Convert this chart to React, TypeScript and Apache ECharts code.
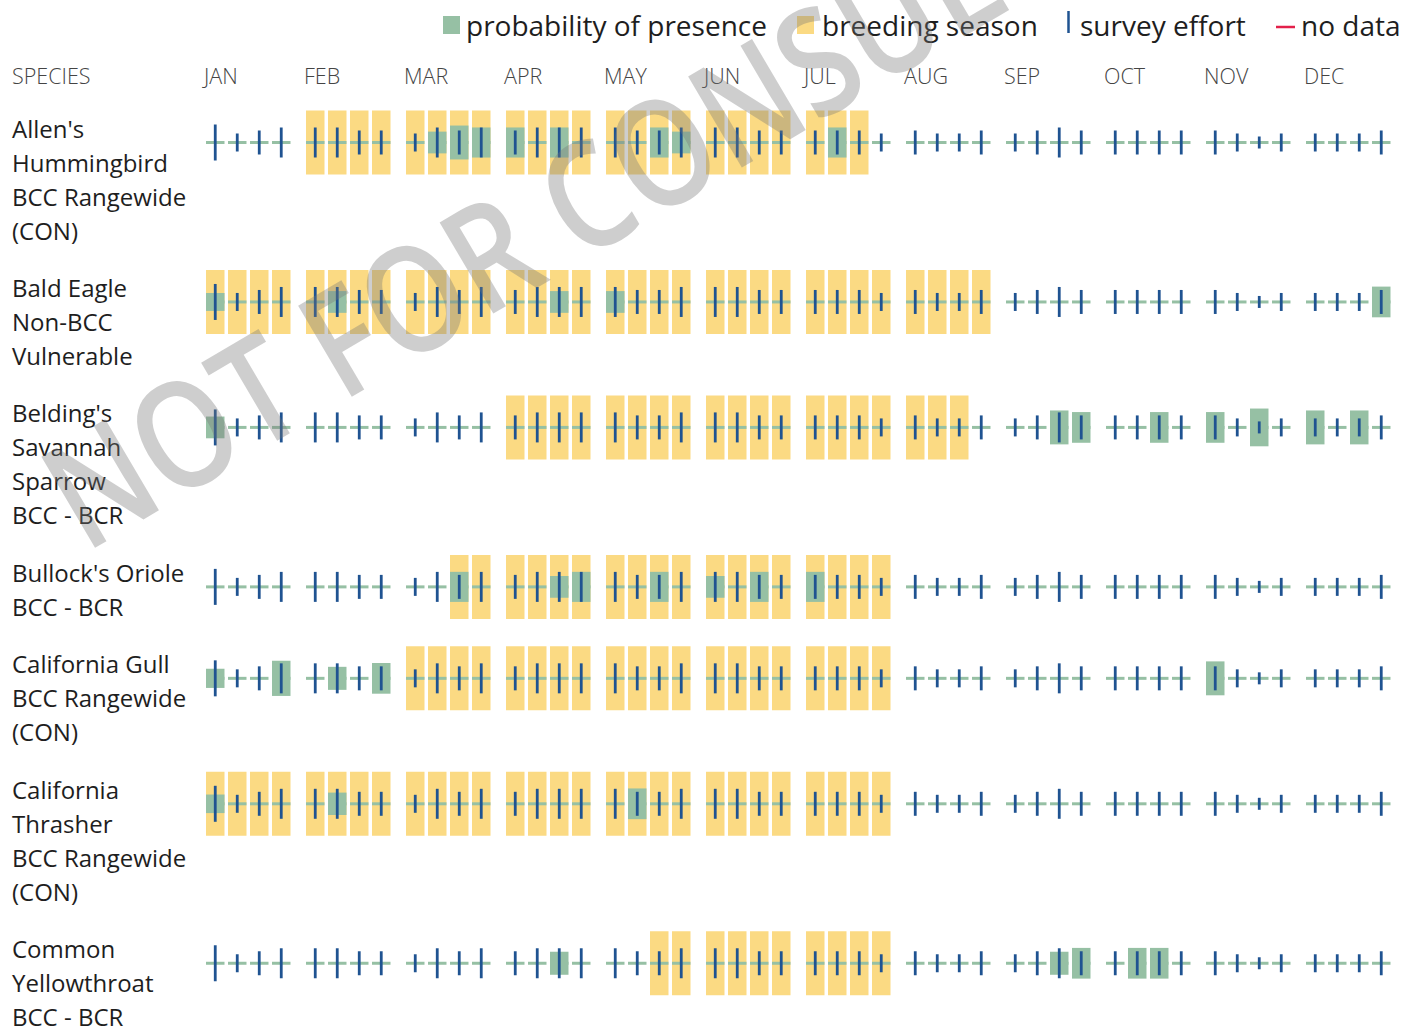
import React, { useEffect, useRef } from "react";
import * as echarts from "echarts";

// ---------- data ----------
const MONTHS = ["JAN", "FEB", "MAR", "APR", "MAY", "JUN", "JUL", "AUG", "SEP", "OCT", "NOV", "DEC"];

const SPECIES_LABELS: string[][] = [
  ["Allen's", "Hummingbird", "BCC Rangewide", "(CON)"],
  ["Bald Eagle", "Non-BCC", "Vulnerable"],
  ["Belding's", "Savannah", "Sparrow", "BCC - BCR"],
  ["Bullock's Oriole", "BCC - BCR"],
  ["California Gull", "BCC Rangewide", "(CON)"],
  ["California", "Thrasher", "BCC Rangewide", "(CON)"],
  ["Common", "Yellowthroat", "BCC - BCR"],
];

// survey effort per week (same survey coverage for every species), 0-10 scale
const EFFORT = [
  6, 3, 4, 5, 5, 5, 4, 4, 3, 5, 4, 5, 4, 5, 5, 5, 5, 4, 4, 5, 5, 5, 4, 4,
  4, 4, 4, 3, 4, 3, 3, 4, 3, 4, 5, 4, 4, 4, 4, 4, 4, 3, 2, 3, 3, 3, 3, 4,
];

// breeding season ranges (inclusive week indexes 0..47)
const BREEDING: number[][][] = [
  [[4, 26]],
  [[0, 31]],
  [[12, 30]],
  [[10, 27]],
  [[8, 27]],
  [[0, 27]],
  [[18, 27]],
];

// probability of presence per week, 0-10 scale
const PROB_ALLENS = [
  0, 0, 0, 0, 0, 0, 0, 0, 0, 3.4, 5.3, 4.7, 4.7, 0, 4.7, 0, 0, 0, 4.7, 3.4, 0, 0, 0, 0,
  0, 4.7, 0, 0, 0, 0, 0, 0, 0, 0, 0, 0, 0, 0, 0, 0, 0, 0, 0, 0, 0, 0, 0, 0,
];
const PROB_BALD_EAGLE = [
  2.8, 0, 0, 0, 0, 3.4, 0, 0, 0, 0, 0, 0, 0, 0, 3.4, 0, 3.4, 0, 0, 0, 0, 0, 0, 0,
  0, 0, 0, 0, 0, 0, 0, 0, 0, 0, 0, 0, 0, 0, 0, 0, 0, 0, 0, 0, 0, 0, 0, 4.8,
];
const PROB_BELDINGS = [
  3.4, 0, 0, 0, 0, 0, 0, 0, 0, 0, 0, 0, 0, 0, 0, 0, 0, 0, 0, 0, 0, 0, 0, 0,
  0, 0, 0, 0, 0, 0, 0, 0, 0, 0, 5.3, 4.8, 0, 0, 4.8, 0, 4.8, 0, 5.9, 0, 5.3, 0, 5.3, 0,
];
const PROB_BULLOCKS = [
  0, 0, 0, 0, 0, 0, 0, 0, 0, 0, 4.7, 0, 0, 0, 3.4, 4.7, 0, 0, 4.7, 0, 3.4, 0, 4.7, 0,
  4.7, 0, 0, 0, 0, 0, 0, 0, 0, 0, 0, 0, 0, 0, 0, 0, 0, 0, 0, 0, 0, 0, 0, 0,
];
const PROB_CA_GULL = [
  3.0, 0, 0, 5.5, 0, 3.6, 0, 4.8, 0, 0, 0, 0, 0, 0, 0, 0, 0, 0, 0, 0, 0, 0, 0, 0,
  0, 0, 0, 0, 0, 0, 0, 0, 0, 0, 0, 0, 0, 0, 0, 0, 5.3, 0, 0, 0, 0, 0, 0, 0,
];
const PROB_CA_THRASHER = [
  2.9, 0, 0, 0, 0, 3.5, 0, 0, 0, 0, 0, 0, 0, 0, 0, 0, 0, 4.8, 0, 0, 0, 0, 0, 0,
  0, 0, 0, 0, 0, 0, 0, 0, 0, 0, 0, 0, 0, 0, 0, 0, 0, 0, 0, 0, 0, 0, 0, 0,
];
const PROB_YELLOWTHROAT = [
  0, 0, 0, 0, 0, 0, 0, 0, 0, 0, 0, 0, 0, 0, 3.6, 0, 0, 0, 0, 0, 0, 0, 0, 0,
  0, 0, 0, 0, 0, 0, 0, 0, 0, 0, 3.6, 4.8, 0, 4.8, 4.8, 0, 0, 0, 0, 0, 0, 0, 0, 0,
];
const PROB = [PROB_ALLENS, PROB_BALD_EAGLE, PROB_BELDINGS, PROB_BULLOCKS, PROB_CA_GULL, PROB_CA_THRASHER, PROB_YELLOWTHROAT];

const LEGEND = ["probability of presence", "breeding season", "survey effort", "no data"];

// ---------- styling / layout ----------
const W = 1417;
const H = 1029;
const LINE = 34; // px per label line (y unit)
const X_MIN = -2.06; // month units, 1 month = 100px
const X_MAX = X_MIN + W / 100;
const Y_MAX = H / LINE;
const FIRST_ROW = 142.5 / LINE;
const ROW_GAP = 0.69;
const WEEK_OFFSET = 0.0925;
const WEEK_STEP = 0.22;
const CELL_W = 0.185;
const PROB_UNIT = 6.4 / LINE;
const EFFORT_UNIT = 6 / LINE;
const BREED_H = 64;

const YELLOW = "#FBDA83";
const GREEN = "#96C0A4";
const BLUE = "#1F5391";
const RED = "#E3204A";
const TEXT = "#1e1e1e";
const FONT = "Open Sans";

export default function App() {
  const ref = useRef<HTMLDivElement>(null);

  useEffect(() => {
    if (!ref.current) return;
    const chart = echarts.init(ref.current, undefined, { renderer: "svg" });

    const rowCenters: number[] = [];
    let y = FIRST_ROW;
    SPECIES_LABELS.forEach((lines) => {
      rowCenters.push(y);
      y += lines.length + ROW_GAP;
    });

    const cellData: number[][] = [];
    SPECIES_LABELS.forEach((_, s) => {
      for (let k = 0; k < 48; k++) {
        const m = Math.floor(k / 4);
        const w = k % 4;
        const breeding = BREEDING[s].some(([a, b]) => k >= a && k <= b) ? 1 : 0;
        cellData.push([m + WEEK_OFFSET + w * WEEK_STEP, rowCenters[s], PROB[s][k], EFFORT[k], breeding]);
      }
    });

    const labelData = rowCenters.map((c) => [X_MIN + 0.12, c - 31.5 / LINE]);
    const monthData = MONTHS.map((_, i) => [i - 0.02, 75 / LINE]);

    const legendY = 25;
    const legendText = (text: string, x: number) => ({
      type: "text",
      x,
      y: legendY,
      style: {
        text,
        fontSize: 28,
        fontFamily: FONT,
        fill: TEXT,
        align: "left",
        verticalAlign: "middle",
        textAlign: "left",
        textVerticalAlign: "middle",
      },
    });

    chart.setOption({
      animation: false,
      backgroundColor: "#ffffff",
      grid: { left: 0, right: 0, top: 0, bottom: 0, containLabel: false },
      xAxis: { type: "value", min: X_MIN, max: X_MAX, show: false },
      yAxis: { type: "value", min: 0, max: Y_MAX, inverse: true, show: false },
      graphic: [
        { type: "rect", shape: { x: 443, y: 16, width: 17, height: 18 }, style: { fill: GREEN } },
        legendText(LEGEND[0], 466),
        { type: "rect", shape: { x: 797, y: 16, width: 17, height: 18 }, style: { fill: YELLOW } },
        legendText(LEGEND[1], 822),
        { type: "line", shape: { x1: 1068.5, y1: 11, x2: 1068.5, y2: 33 }, style: { stroke: BLUE, lineWidth: 2.5 } },
        legendText(LEGEND[2], 1080),
        { type: "line", shape: { x1: 1276, y1: 27, x2: 1295, y2: 27 }, style: { stroke: RED, lineWidth: 2.5 } },
        legendText(LEGEND[3], 1301),
        {
          type: "text",
          x: 12,
          y: 75,
          style: {
            text: "SPECIES",
            fontSize: 21.5,
            fontFamily: FONT,
            fontWeight: 300,
            fill: "#444",
            align: "left",
            verticalAlign: "middle",
            textAlign: "left",
            textVerticalAlign: "middle",
          },
        },
        {
          type: "text",
          x: 716,
          y: 116,
          rotation: (30.5 * Math.PI) / 180,
          scaleX: 0.84,
          z: 100,
          silent: true,
          style: {
            text: "NOT FOR CONSULTATION",
            fontSize: 148,
            fontFamily: FONT,
            fontWeight: 600,
            fill: "rgba(120,120,120,0.36)",
            align: "center",
            verticalAlign: "middle",
            textAlign: "center",
            textVerticalAlign: "middle",
          },
        },
      ],
      series: [
        {
          type: "custom",
          name: "cells",
          coordinateSystem: "cartesian2d",
          encode: { x: 0, y: 1 },
          data: cellData,
          renderItem: (_params: any, api: any) => {
            const c = api.coord([api.value(0), api.value(1)]);
            const cw = api.size([CELL_W, 0])[0];
            const ph = api.size([0, api.value(2) * PROB_UNIT])[1];
            const eh = api.size([0, api.value(3) * EFFORT_UNIT])[1];
            const children: any[] = [];
            if (api.value(4) === 1) {
              children.push({
                type: "rect",
                shape: { x: c[0] - cw / 2, y: c[1] - BREED_H / 2, width: cw, height: BREED_H },
                style: { fill: YELLOW },
              });
            }
            children.push({
              type: "rect",
              shape: { x: c[0] - cw / 2, y: c[1] - 1.5, width: cw, height: 3 },
              style: { fill: GREEN },
            });
            if (ph > 0) {
              children.push({
                type: "rect",
                shape: { x: c[0] - cw / 2, y: c[1] - ph / 2, width: cw, height: ph },
                style: { fill: GREEN },
              });
            }
            children.push({
              type: "rect",
              shape: { x: c[0] - 1.4, y: c[1] - eh / 2, width: 2.8, height: eh },
              style: { fill: BLUE },
            });
            return { type: "group", children };
          },
        },
        {
          type: "custom",
          name: "species",
          coordinateSystem: "cartesian2d",
          encode: { x: 0, y: 1 },
          data: labelData,
          renderItem: (params: any, api: any) => {
            const c = api.coord([api.value(0), api.value(1)]);
            return {
              type: "text",
              x: c[0],
              y: c[1],
              style: {
                text: SPECIES_LABELS[params.dataIndex].join("\n"),
                fontSize: 24,
                lineHeight: LINE,
                fontFamily: FONT,
                fill: TEXT,
                align: "left",
                verticalAlign: "top",
              },
            };
          },
        },
        {
          type: "custom",
          name: "months",
          coordinateSystem: "cartesian2d",
          encode: { x: 0, y: 1 },
          data: monthData,
          renderItem: (params: any, api: any) => {
            const c = api.coord([api.value(0), api.value(1)]);
            return {
              type: "text",
              x: c[0],
              y: c[1],
              style: {
                text: MONTHS[params.dataIndex],
                fontSize: 21.5,
                fontFamily: FONT,
                fontWeight: 300,
                fill: "#444",
                align: "left",
                verticalAlign: "middle",
              },
            };
          },
        },
      ],
    });

    return () => chart.dispose();
  }, []);

  return (
    <div
      ref={ref}
      style={{ position: "absolute", left: 0, top: 0, width: W, height: H, background: "#fff" }}
    />
  );
}
